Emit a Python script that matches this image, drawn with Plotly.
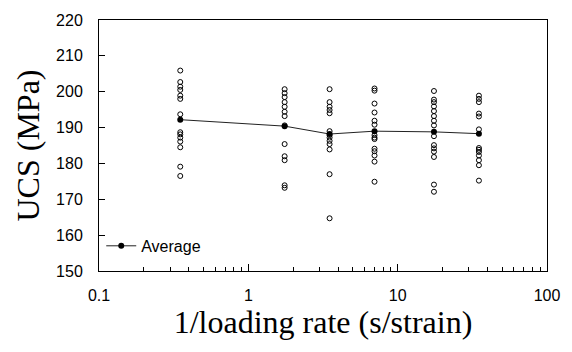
import plotly.graph_objects as go

# x positions (1/loading rate, s/strain)
rates = [0.35, 1.75, 3.5, 7.0, 17.5, 35.0]

ucs_r1 = [205.9, 202.7, 201.4, 200.5, 198.9, 198.0, 193.7, 188.7, 188.1, 187.2, 186.1, 184.5, 179.1, 176.5]
ucs_r2 = [200.7, 199.6, 198.5, 197.1, 195.8, 194.4, 193.2, 190.6, 185.4, 182.0, 180.9, 173.9, 173.2]
ucs_r3 = [200.7, 197.1, 195.8, 194.9, 194.0, 189.0, 187.9, 187.2, 186.3, 185.4, 183.9, 177.0, 164.7]
ucs_r4 = [200.9, 200.3, 196.7, 194.2, 191.9, 190.8, 187.9, 187.2, 186.8, 184.1, 183.4, 182.2, 180.5, 174.9]
ucs_r5 = [200.2, 197.8, 197.1, 195.9, 194.6, 193.2, 191.9, 190.6, 187.6, 185.1, 184.2, 183.3, 181.8, 174.1, 172.1]
ucs_r6 = [198.9, 198.0, 197.1, 193.9, 193.1, 189.5, 184.3, 183.8, 183.2, 182.2, 180.9, 179.5, 175.2]

average = [192.2, 190.4, 188.2, 189.0, 188.8, 188.3]

groups = [ucs_r1, ucs_r2, ucs_r3, ucs_r4, ucs_r5, ucs_r6]

x_major = [0.1, 1, 10, 100]
x_major_text = ["0.1", "1", "10", "100"]
x_minor = [m * d for d in (0.1, 1, 10) for m in range(2, 10)]

xs, ys = [], []
for r, g in zip(rates, groups):
    xs += [r] * len(g)
    ys += g

fig = go.Figure()
fig.add_trace(go.Scatter(
    x=xs, y=ys, mode="markers", showlegend=False,
    marker=dict(symbol="circle-open", size=5, color="black", line=dict(width=1, color="black")),
))
fig.add_trace(go.Scatter(
    x=rates, y=average, mode="lines+markers", name="Average",
    line=dict(color="#222222", width=1),
    marker=dict(symbol="circle", size=6, color="black"),
))

fig.update_layout(
    width=572, height=352,
    margin=dict(l=99, r=24, t=12, b=81),
    paper_bgcolor="white", plot_bgcolor="white",
    font=dict(family="Liberation Sans, Arial", size=16, color="black"),
    showlegend=True,
    legend=dict(x=0.005, y=0.1, xanchor="left", yanchor="middle",
                bgcolor="rgba(0,0,0,0)", font=dict(size=16)),
    xaxis=dict(
        type="log", range=[-1, 2],
        tickmode="array", tickvals=x_major, ticktext=x_major_text,
        ticks="inside", ticklen=7, tickcolor="black", tickwidth=1,
        minor=dict(tickmode="array", tickvals=x_minor, ticks="inside", ticklen=4,
                   tickcolor="black", tickwidth=1, showgrid=False),
        showline=True, linecolor="black", linewidth=1, mirror=True,
        showgrid=False, zeroline=False,
        tickfont=dict(size=16), ticklabelstandoff=10,
        title=dict(text="1/loading rate (s/strain)",
                   font=dict(family="Liberation Serif, Times New Roman", size=32), standoff=6),
    ),
    yaxis=dict(
        range=[150, 220], dtick=10,
        ticks="inside", ticklen=6, tickcolor="black", tickwidth=1,
        showline=True, linecolor="black", linewidth=1, mirror=True,
        showgrid=False, zeroline=False,
        tickfont=dict(size=16), ticklabelstandoff=12,
        title=dict(text="UCS (MPa)",
                   font=dict(family="Liberation Serif, Times New Roman", size=32), standoff=6),
    ),
)

fig.write_html("out.html")
